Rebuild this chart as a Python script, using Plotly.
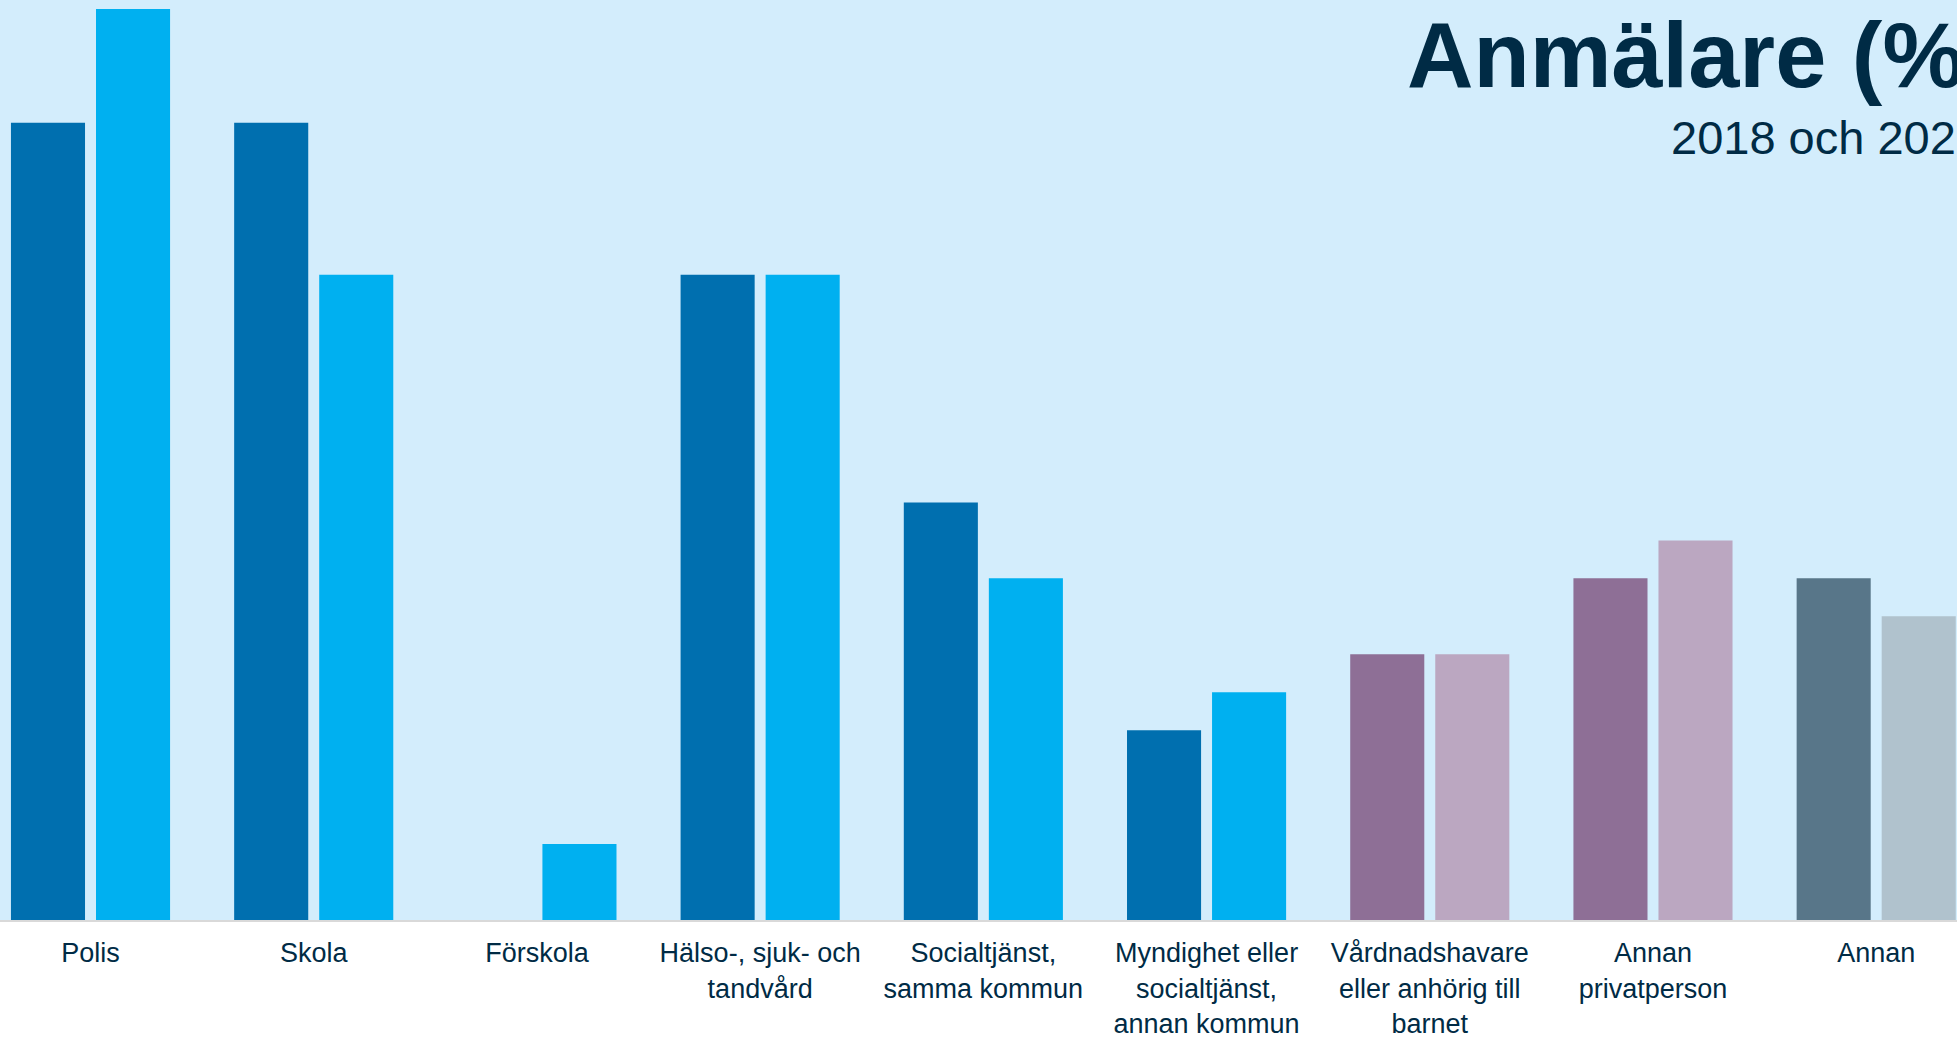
import plotly.graph_objects as go

# ---- data ----
categories = [
    "Polis",
    "Skola",
    "Förskola",
    "Hälso-, sjuk- och<br>tandvård",
    "Socialtjänst,<br>samma kommun",
    "Myndighet eller<br>socialtjänst,<br>annan kommun",
    "Vårdnadshavare<br>eller anhörig till<br>barnet",
    "Annan<br>privatperson",
    "Annan",
]
series_names = ["2018", "2022"]
values_2018 = [21, 21, 0, 17, 11, 5, 7, 9, 9]
values_2022 = [24, 17, 2, 17, 9, 6, 7, 10, 8]

colors_2018 = ["#006faf"] * 6 + ["#8e6f96", "#8e6f96", "#587689"]
colors_2022 = ["#00b0f0"] * 6 + ["#bba7c1", "#bba7c1", "#b0c2cd"]

title_text = "Anmälare (%)"
subtitle_text = "2018 och 2022"

TEXT = "#002b45"
FONT = "Arial, 'Liberation Sans', sans-serif"

fig = go.Figure()
fig.add_trace(go.Bar(x=categories, y=values_2018, name=series_names[0],
                     marker=dict(color=colors_2018, line=dict(width=0))))
fig.add_trace(go.Bar(x=categories, y=values_2022, name=series_names[1],
                     marker=dict(color=colors_2022, line=dict(width=0))))

fig.update_layout(
    width=1957, height=1038,
    margin=dict(l=0, r=0, t=0, b=118, pad=0),
    paper_bgcolor="#ffffff",
    plot_bgcolor="#d3edfc",
    barmode="group",
    bargap=0.238,
    bargroupgap=0.129,
    showlegend=False,
    font=dict(family=FONT, color=TEXT),
    xaxis=dict(
        type="category",
        range=[-0.4055, 8.362],
        showline=True, linecolor="#d9d9d9", linewidth=2,
        ticks="", showgrid=False, zeroline=False,
        tickfont=dict(size=27, color=TEXT, family=FONT),
        ticklabelstandoff=8,
        automargin=False, fixedrange=True,
    ),
    yaxis=dict(range=[0, 24.237], visible=False, showgrid=False,
               zeroline=False, fixedrange=True),
    annotations=[
        dict(text="<b>" + title_text + "</b>", xref="paper", yref="paper",
             x=1405 / 1957, y=0.9975, xanchor="left", yanchor="top",
             showarrow=False, font=dict(size=92, color=TEXT, family=FONT)),
        dict(text=subtitle_text, xref="paper", yref="paper",
             x=1669 / 1957, y=0.882, xanchor="left", yanchor="top",
             showarrow=False, font=dict(size=47, color=TEXT, family=FONT)),
    ],
)

fig.write_html(
    "out.html",
    config={"displayModeBar": False},
    post_script="document.body.style.margin='0';document.body.style.overflow='hidden';",
)
